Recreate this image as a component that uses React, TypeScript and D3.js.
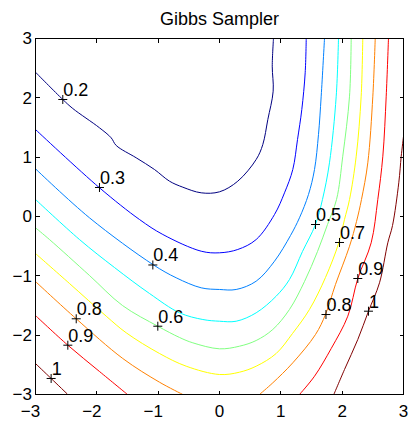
import React from "react";
import * as d3 from "d3";

type P = [number, number];

const levels = [0.2, 0.3, 0.4, 0.5, 0.6, 0.7, 0.8, 0.9, 1];
const levelColors = ["#000080", "#0000ff", "#0080ff", "#00ffff", "#80ff80", "#ffff00", "#ff8000", "#ff0000", "#800000"];
const xTickValues = [-3, -2, -1, 0, 1, 2, 3];
const yTickValues = [-3, -2, -1, 0, 1, 2, 3];
const titleText = "Gibbs Sampler";

const contour02: P[] = [
  [-3.0, 2.432], [-2.555, 1.972], [-2.392, 1.82], [-1.957, 1.495], [-1.766, 1.326], [-1.684, 1.197],
  [-1.358, 0.989], [-1.06, 0.792], [-0.815, 0.595], [-0.598, 0.494], [-0.298, 0.399], [0, 0.416],
  [0.298, 0.595], [0.598, 0.961], [0.706, 1.213], [0.788, 1.635], [0.875, 2.112], [0.86, 2.533], [0.88, 3.0],
];
const contour03: P[] = [
  [-3, 1.466], [-1.957, 0.484], [-1.304, -0.051], [-0.924, -0.303], [-0.298, -0.585], [0, -0.612],
  [0.298, -0.556], [0.598, -0.388], [0.897, 0.034], [1.06, 0.399], [1.195, 0.792], [1.272, 1.298],
  [1.342, 1.803], [1.397, 2.422], [1.414, 3.0],
];
const contour04: P[] = [
  [-3, 0.804], [-2.12, -0.022], [-1.087, -0.809], [-0.706, -1.033], [-0.298, -1.202], [0, -1.23],
  [0.272, -1.23], [0.598, -1.09], [0.897, -0.753], [1.158, -0.32], [1.304, -0.022], [1.451, 0.371],
  [1.549, 0.792], [1.614, 1.382], [1.658, 2.028], [1.712, 3.0],
];
const contour05: P[] = [
  [-3, 0.287], [-2.283, -0.388], [-1.712, -0.86], [-1.141, -1.298], [-0.652, -1.623], [-0.272, -1.736],
  [0, -1.765], [0.272, -1.765], [0.598, -1.623], [0.924, -1.343], [1.141, -1.062], [1.353, -0.59],
  [1.565, -0.135], [1.679, 0.287], [1.793, 0.905], [1.903, 2.028], [1.94, 3.0],
];
const contour06: P[] = [
  [-3.0, -0.19], [-2.772, -0.388], [-2.12, -0.994], [-1.582, -1.5], [-1.006, -1.849], [-0.652, -2.039],
  [-0.435, -2.129], [0, -2.23], [0.326, -2.186], [0.598, -2.09], [0.869, -1.904], [1.141, -1.567],
  [1.386, -1.096], [1.598, -0.59], [1.761, -0.135], [1.908, 0.287], [2.01, 1.016], [2.12, 2.028], [2.147, 3.0],
];
const contour07: P[] = [
  [-3.0, -0.624], [-2.446, -1.129], [-1.847, -1.68], [-1.521, -1.96], [-0.978, -2.309], [-0.543, -2.523],
  [0, -2.663], [0.326, -2.624], [0.598, -2.523], [0.924, -2.309], [1.19, -1.972], [1.467, -1.567],
  [1.728, -1.028], [1.945, -0.443], [2.038, -0.051], [2.12, 0.287], [2.229, 1.016], [2.31, 2.028], [2.336, 3.0],
];
const contour08Left: P[] = [
  [-3, -1.096], [-2.336, -1.724], [-1.577, -2.393], [-0.978, -2.793], [-0.598, -3.0],
];
const contour08Right: P[] = [
  [0.652, -3.0], [0.869, -2.803], [1.195, -2.466], [1.565, -1.989], [1.728, -1.652], [1.891, -1.146],
  [2.12, -0.501], [2.234, -0.084], [2.315, 0.287], [2.418, 0.905], [2.5, 2.028], [2.539, 3.0],
];
const contour09Left: P[] = [
  [-3, -1.669], [-2.473, -2.169], [-1.957, -2.612], [-1.5, -3.0],
];
const contour09Right: P[] = [
  [1.304, -3.0], [1.549, -2.692], [1.821, -2.225], [2.092, -1.68], [2.255, -1.045], [2.473, -0.443],
  [2.581, 0.287], [2.663, 1.016], [2.718, 2.028], [2.755, 3.0],
];
const contour10Left: P[] = [
  [-3, -2.478], [-2.745, -2.73], [-2.473, -3.0],
];
const contour10Right: P[] = [
  [1.864, -3.0], [2.038, -2.579], [2.255, -2.073], [2.429, -1.596], [2.609, -1.117], [2.744, -0.443],
  [2.821, -0.152], [2.923, 0.568], [2.963, 1.016], [3.0, 1.348],
];

const segmentLevels = [0.2, 0.3, 0.4, 0.5, 0.6, 0.7, 0.8, 0.8, 0.9, 0.9, 1, 1];
const segmentPoints = [
  contour02, contour03, contour04, contour05, contour06, contour07,
  contour08Left, contour08Right, contour09Left, contour09Right, contour10Left, contour10Right,
];

// [x, y, level]
const labelPoints: [number, number, number][] = [
  [-2.555, 1.972, 0.2], [-1.957, 0.489, 0.3], [-1.087, -0.817, 0.4], [1.565, -0.135, 0.5],
  [-1.006, -1.849, 0.6], [1.957, -0.438, 0.7], [-2.336, -1.724, 0.8], [1.736, -1.652, 0.8],
  [-2.473, -2.169, 0.9], [2.255, -1.045, 0.9], [-2.745, -2.73, 1], [2.429, -1.596, 1],
];

const W = 411;
const H = 425;
const PL = 35.5, PR = 403.5, PT = 38.5, PB = 394.5;
const FONT = "'Liberation Sans', Arial, Helvetica, sans-serif";

export default function App() {
  const x = d3.scaleLinear().domain([-3, 3]).range([PL, PR]);
  const y = d3.scaleLinear().domain([-3, 3]).range([PB, PT]);
  const color = d3.scaleOrdinal<number, string>().domain(levels).range(levelColors);
  const line = d3
    .line<P>()
    .x((d) => x(d[0]))
    .y((d) => y(d[1]))
    .curve(d3.curveCatmullRom.alpha(0.5));
  const fmt = (v: number) => (v < 0 ? "\u2212" + Math.abs(v) : String(v));
  const snap = (v: number) => Math.round(v - 0.5) + 0.5;
  const tl = 4;

  return (
    <svg
      width={W}
      height={H}
      style={{ position: "absolute", left: 0, top: 0, background: "#fff" }}
      fontFamily={FONT}
    >
      <defs>
        <clipPath id="plotClip">
          <rect x={PL} y={PT} width={PR - PL} height={PB - PT} />
        </clipPath>
      </defs>
      <rect x={0} y={0} width={W} height={H} fill="#fff" />
      <g clipPath="url(#plotClip)">
        {segmentPoints.map((pts, i) => (
          <path key={i} d={line(pts) || ""} fill="none" stroke={color(segmentLevels[i])} strokeWidth={1} />
        ))}
      </g>
      {labelPoints.map(([lx, ly, lv], i) => {
        const px = x(lx);
        const py = y(ly);
        return (
          <g key={"lab" + i}>
            <line x1={px - 4.5} x2={px + 4.5} y1={py} y2={py} stroke="#000" strokeWidth={1} />
            <line x1={px} x2={px} y1={py - 4.5} y2={py + 4.5} stroke="#000" strokeWidth={1} />
            <text x={px + 0.5} y={py - 3.5} fontSize={18} fill="#000">
              {String(lv)}
            </text>
          </g>
        );
      })}
      <rect x={PL} y={PT} width={PR - PL} height={PB - PT} fill="none" stroke="#000" strokeWidth={1} shapeRendering="crispEdges" />
      <g stroke="#000" strokeWidth={1} shapeRendering="crispEdges">
        {xTickValues.map((v) => {
          const px = snap(x(v));
          return (
            <g key={"xt" + v}>
              <line x1={px} x2={px} y1={PB} y2={PB - tl} />
              <line x1={px} x2={px} y1={PT} y2={PT + tl} />
            </g>
          );
        })}
        {yTickValues.map((v) => {
          const py = snap(y(v));
          return (
            <g key={"yt" + v}>
              <line x1={PL} x2={PL + tl} y1={py} y2={py} />
              <line x1={PR} x2={PR - tl} y1={py} y2={py} />
            </g>
          );
        })}
      </g>
      {xTickValues.map((v) => (
        <text key={"xl" + v} x={x(v) + 4.7} y={417} fontSize={17} textAnchor="end" fill="#000">
          {fmt(v)}
        </text>
      ))}
      {yTickValues.map((v) => (
        <text key={"yl" + v} x={32} y={y(v)} dy="0.35em" fontSize={17} textAnchor="end" fill="#000">
          {fmt(v)}
        </text>
      ))}
      <text x={(PL + PR) / 2} y={25} fontSize={18} textAnchor="middle" fill="#000">
        {titleText}
      </text>
    </svg>
  );
}
